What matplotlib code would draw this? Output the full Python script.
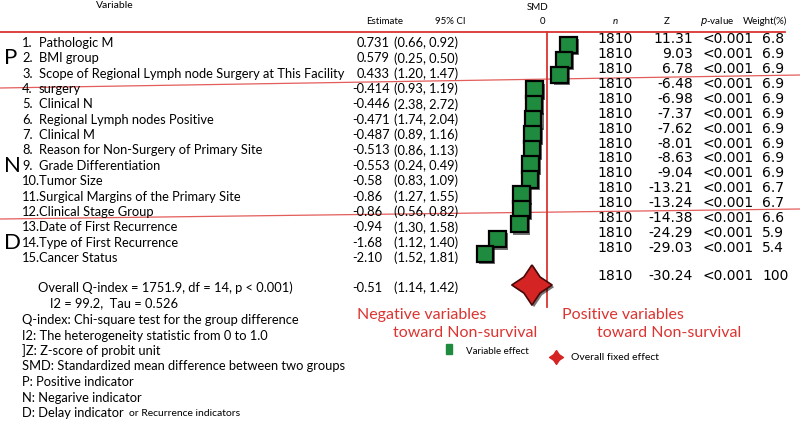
import numpy as np
import matplotlib
matplotlib.use('Agg')
import matplotlib.pyplot as plt
import matplotlib.patheffects as pe
from matplotlib.patches import Rectangle

# data
nums = list(range(1, 16))
names = ['Pathologic M', 'BMI group', 'Scope of Regional Lymph node Surgery at This Facility',
         'surgery', 'Clinical N', 'Regional Lymph nodes Positive', 'Clinical M',
         'Reason for Non-Surgery of Primary Site', 'Grade Differentiation', 'Tumor Size',
         'Surgical Margins of the Primary Site', 'Clinical Stage Group',
         'Date of First Recurrence', 'Type of First Recurrence', 'Cancer Status']
est_txt = ['0.731', '0.579', '0.433', '-0.414', '-0.446', '-0.471', '-0.487', '-0.513',
           '-0.553', '-0.58', '-0.86', '-0.86', '-0.94', '-1.68', '-2.10']
est = [float(s) for s in est_txt]
ci = ['(0.66, 0.92)', '(0.25, 0.50)', '(1.20, 1.47)', '(0.93, 1.19)', '(2.38, 2.72)',
      '(1.74, 2.04)', '(0.89, 1.16)', '(0.86, 1.13)', '(0.24, 0.49)', '(0.83, 1.09)',
      '(1.27, 1.55)', '(0.56, 0.82)', '(1.30, 1.58)', '(1.12, 1.40)', '(1.52, 1.81)']
n_vals = [1810] * 15
z_vals = ['11.31', '9.03', '6.78', '-6.48', '-6.98', '-7.37', '-7.62', '-8.01', '-8.63',
          '-9.04', '-13.21', '-13.24', '-14.38', '-24.29', '-29.03']
p_vals = ['<0.001'] * 15
weights = ['6.8', '6.9', '6.9', '6.9', '6.9', '6.9', '6.9', '6.9', '6.9', '6.9',
           '6.7', '6.7', '6.6', '5.9', '5.4']
overall_est, overall_ci = -0.51, '(1.14, 1.42)'
overall_stats = ['1810', '-30.24', '<0.001', '100']
groups = [('P', 2), ('N', 9), ('D', 14)]

W, H = 800, 422
fig = plt.figure(figsize=(8, 4.22), dpi=100)
ax = fig.add_axes([0, 0, 1, 1])
ax.set_xlim(0, W)
ax.set_ylim(H, 0)
ax.axis('off')

RED = '#dc3431'
LF = 'Lato'
DF = 'DejaVu Sans'

# forest axes: SMD=0 at x=547px, 29.5 px per unit; rows 14.93 px apart from y=45
zero_px, ppu = 547, 29.5
row0, dy = 45, 14.93
fax = fig.add_axes([0, 0, 1, 1], facecolor='none')
fax.set_xlim(-zero_px / ppu, (W - zero_px) / ppu)
fax.set_ylim(1 + (H - row0) / dy, 1 - row0 / dy)
fax.axis('off')

# red guide lines
ax.plot([0, 785], [32, 32], color=RED, lw=1.3)
ax.plot([0, 800], [88, 75], color=RED, lw=0.9, alpha=0.8)
ax.plot([0, 800], [219, 209], color=RED, lw=0.9, alpha=0.8)
fax.axvline(0, ymin=1 - 307 / H, ymax=1 - 32 / H, color=RED, lw=1.3)

# headers
hs = 7
ax.text(115, 6, 'Variable', fontsize=7.5, family=LF, ha='center', va='center')
ax.text(385, 21, 'Estimate', fontsize=hs, family=LF, ha='center', va='center')
ax.text(450, 21, '95% CI', fontsize=hs, family=LF, ha='center', va='center')
ax.text(538, 7, 'SMD', fontsize=hs, family=LF, ha='center', va='center')
ax.text(543, 21, '0', fontsize=hs, family=LF, ha='center', va='center')
ax.text(615, 21, 'n', fontsize=hs, family=LF, style='italic', ha='center', va='center')
ax.text(667, 21, 'Z', fontsize=hs, family=LF, ha='center', va='center')
ax.text(717, 21, '$\\it{p}$-value', fontsize=hs, family=LF, ha='center', va='center')
ax.text(765, 21, 'Weight(%)', fontsize=hs, family=LF, ha='center', va='center')

# left labels
ly = np.linspace(43, 258, 15)
fs = 9.3
for i in range(15):
    ax.text(22, ly[i], f'{nums[i]}.', fontsize=fs, family=LF, va='center')
    ax.text(39, ly[i], names[i], fontsize=fs, family=LF, va='center')
    ax.text(352 if est[i] < 0 else 357, ly[i], est_txt[i], fontsize=fs, family=LF, va='center')
    ax.text(394, ly[i], ci[i], fontsize=fs, family=LF, va='center')
for g, r in groups:
    ax.text(4, ly[r - 1], g, fontsize=16, family=LF, va='center')

# right columns
ry = np.linspace(39, 248, 15)
rs = 10
for i in range(15):
    ax.text(597, ry[i], str(n_vals[i]), fontsize=rs, family=DF, va='center')
    ax.text(693, ry[i], z_vals[i], fontsize=rs, family=DF, va='center', ha='right')
    ax.text(702, ry[i], p_vals[i], fontsize=rs, family=DF, va='center')
    ax.text(762, ry[i], weights[i], fontsize=rs, family=DF, va='center')
ax.text(597, 276, overall_stats[0], fontsize=rs, family=DF, va='center')
ax.text(693, 276, overall_stats[1], fontsize=rs, family=DF, va='center', ha='right')
ax.text(702, 276, overall_stats[2], fontsize=rs, family=DF, va='center')
ax.text(762, 276, overall_stats[3], fontsize=rs, family=DF, va='center')

# squares
shadow = [pe.SimplePatchShadow(offset=(1.5, -1.5), shadow_rgbFace='k', alpha=0.55), pe.Normal()]
fax.plot(est, nums, ls='none', marker='s', ms=12, mfc='#1f8b3e', mec='k', mew=1.6,
         path_effects=shadow)

# overall diamond
star = [(0, 1), (0.4, 0.4), (1, 0), (0.4, -0.4), (0, -1), (-0.4, -0.4), (-1, 0), (-0.4, 0.4), (0, 1)]
overall_row = 1 + (285 - row0) / dy
fax.plot([overall_est], [overall_row], ls='none', marker=star, ms=29, mfc='#d42424',
         mec='#4a0808', mew=1.2, path_effects=shadow)

# overall text
ax.text(352, 288, f'{overall_est:.2f}', fontsize=fs, family=LF, va='center')
ax.text(394, 288, overall_ci, fontsize=fs, family=LF, va='center')
ax.text(38, 288, 'Overall Q-index = 1751.9, df = 14, p < 0.001)', fontsize=fs, family=LF, va='center')
ax.text(50, 303, 'I2 = 99.2,  Tau = 0.526', fontsize=fs, family=LF, va='center')

notes = ['Q-index: Chi-square test for the group difference',
         'I2: The heterogeneity statistic from 0 to 1.0',
         ']Z: Z-score of probit unit',
         'SMD: Standardized mean difference between two groups',
         'P: Positive indicator',
         'N: Negarive indicator',
         'D: Delay indicator']
ny = np.linspace(320, 413, len(notes))
for t, y in zip(notes, ny):
    ax.text(22, y, t, fontsize=fs, family=LF, va='center')
ax.text(129, 413, 'or Recurrence indicators', fontsize=7.5, family=LF, va='center')

# direction labels
rfs = 11.5
ax.text(357, 315, 'Negative variables', fontsize=rfs, family=LF, color=RED, va='center')
ax.text(393, 333, 'toward Non-survival', fontsize=rfs, family=LF, color=RED, va='center')
ax.text(562, 315, 'Positive variables', fontsize=rfs, family=LF, color=RED, va='center')
ax.text(597, 333, 'toward Non-survival', fontsize=rfs, family=LF, color=RED, va='center')

# legend
ax.add_patch(Rectangle((446, 344), 6, 10, color='#1f8b3e'))
ax.text(466, 352, 'Variable effect', fontsize=7, family=LF, va='center')
ax.plot([556], [357], ls='none', marker=star, ms=10, mfc='#d42424', mec='#d42424')
ax.text(571, 357, 'Overall fixed effect', fontsize=7.5, family=LF, va='center')

fig.savefig('out.png', dpi=100)
